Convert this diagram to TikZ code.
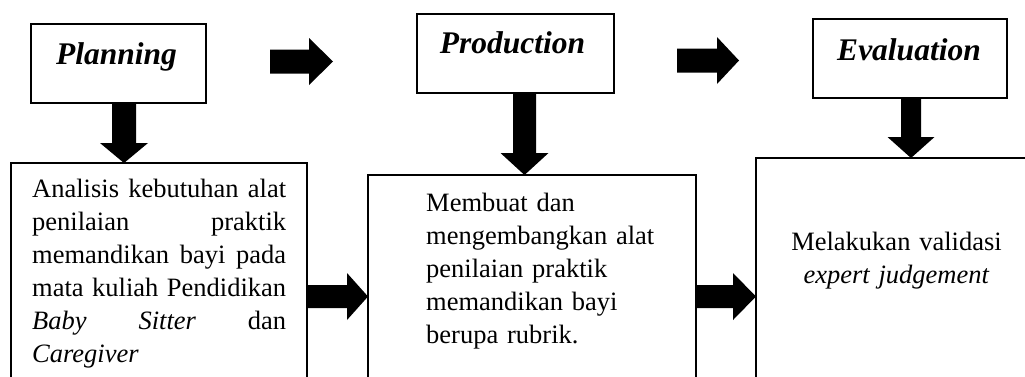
\documentclass[tikz,border=0pt]{standalone}
\usepackage{fontspec}
\setmainfont{Liberation Serif}
\hbadness=10000
\newcommand{\downblk}[6]{\fill ({#1-#5},#2) -- ({#1+#5},#2) -- ({#1+#5},#3) -- ({#1+#6},#3) -- (#1,#4) -- ({#1-#6},#3) -- ({#1-#5},#3) -- cycle;}
\newcommand{\rightblk}[6]{\fill (#2,{#1-#5}) -- (#3,{#1-#5}) -- (#3,{#1-#6}) -- (#4,#1) -- (#3,{#1+#6}) -- (#3,{#1+#5}) -- (#2,{#1+#5}) -- cycle;}
\begin{document}
\begin{tikzpicture}[x=1pt,y=-1pt,
  box/.style={draw=black, line width=1.6pt, fill=white, inner sep=0pt},
  headtxt/.style={font=\fontsize{31.5}{36}\selectfont\bfseries\itshape, inner sep=0pt, anchor=base},
  bodytxt/.style={font=\fontsize{26.5}{33}\selectfont, inner sep=0pt}]
\useasboundingbox (0,0) rectangle (1025,376);
\clip (0,0) rectangle (1025,376);
% top boxes
\node[box, minimum width=175pt, minimum height=79pt] (plan) at (118.5,63.5) {};
\node[box, minimum width=197pt, minimum height=79pt] (prod) at (515.5,53.5) {};
\node[box, minimum width=194pt, minimum height=79pt] (eval) at (910,58.5) {};
\node[headtxt] (planT) at (116.5,64) {Planning};
\node[headtxt] (prodT) at (512.5,53) {Production};
\node[headtxt] (evalT) at (909,60) {Evaluation};
% bottom boxes
\node[box, minimum width=296pt, minimum height=237pt] (left) at (159,281.5) {};
\node[box, minimum width=328pt, minimum height=225pt] (mid) at (532,287.5) {};
\node[box, minimum width=284pt, minimum height=242pt] (right) at (898,279) {};
% texts
\node[bodytxt, text width=254pt, align=justify, anchor=base west] (ltxt) at (32,197)
  {Analisis kebutuhan alat\linebreak penilaian praktik\linebreak memandikan bayi pada\linebreak mata kuliah Pendidikan\linebreak \textit{Baby Sitter} dan\linebreak \textit{Caregiver}};
\node[bodytxt, text width=270pt, align=left, anchor=base west] (mtxt) at (426,211)
  {Membuat dan\\ mengembangkan alat\\ penilaian praktik\\ memandikan bayi\\ berupa rubrik.};
\node[bodytxt, text width=270pt, align=center, anchor=base] (rtxt) at (896.5,250)
  {Melakukan validasi\\ \textit{expert judgement}};
% down arrows
\downblk{124}{103}{143}{163}{12}{24}
\downblk{524.5}{93}{153}{175}{11.5}{24}
\downblk{911}{98}{137}{158}{10}{23.5}
% right arrows
\rightblk{61.5}{270}{309}{333}{12}{23.5}
\rightblk{60.5}{677}{717}{739}{12}{23.5}
\rightblk{296.5}{307}{347}{368}{11.5}{23.5}
\rightblk{296.5}{696}{733}{756}{11.5}{23.5}
\end{tikzpicture}
\end{document}
